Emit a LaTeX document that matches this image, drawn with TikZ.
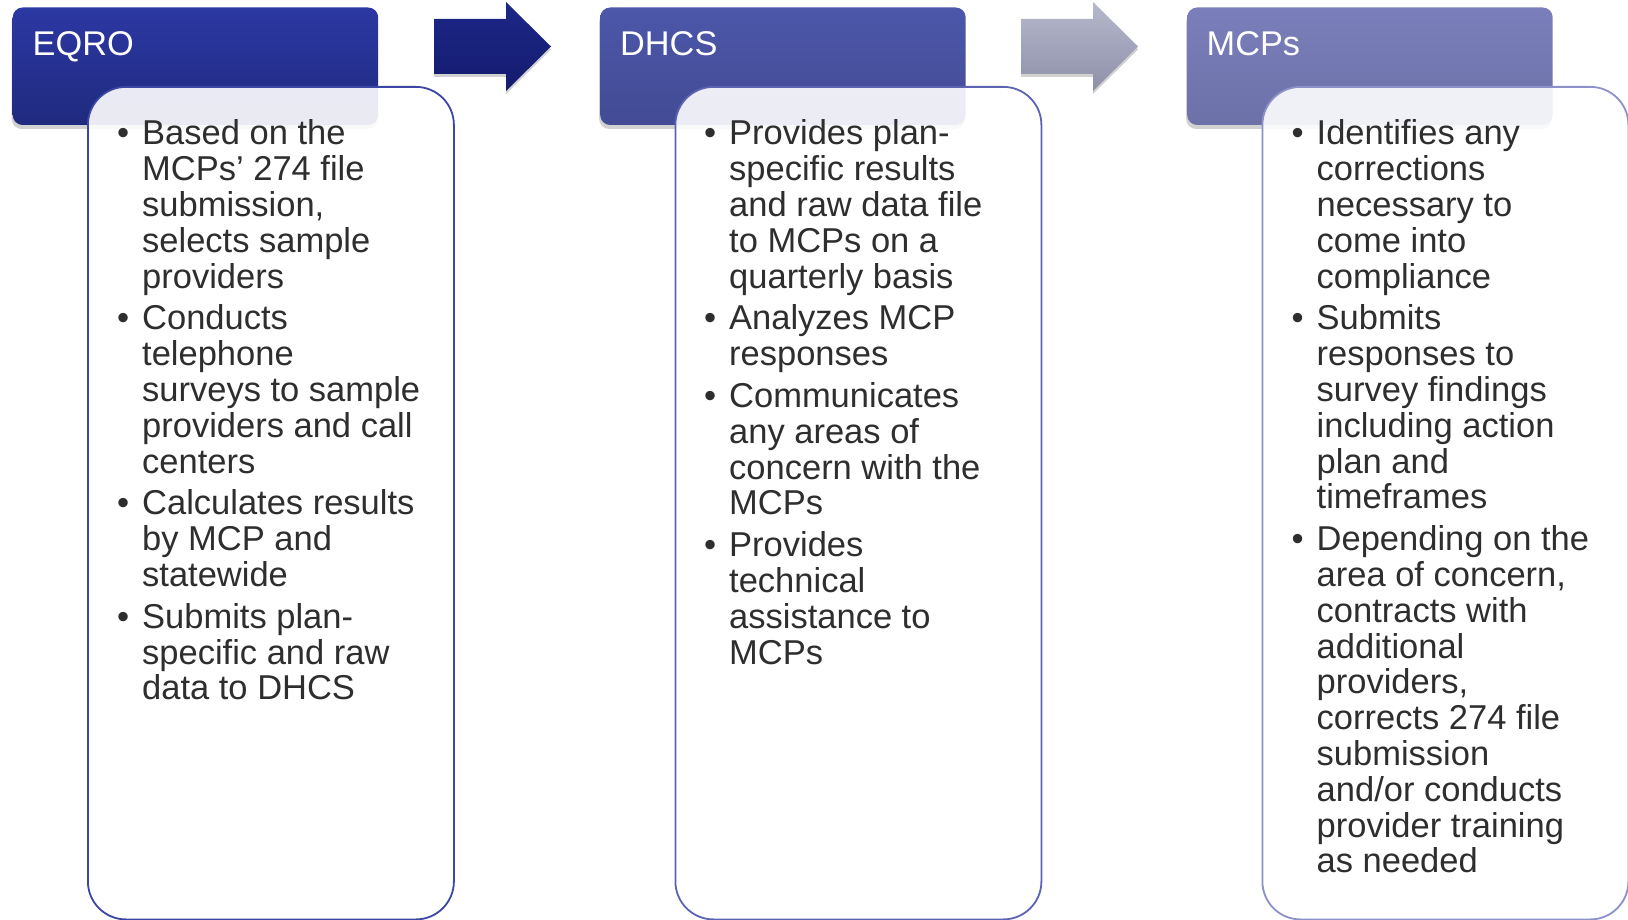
\documentclass[tikz,border=0pt]{standalone}
\usepackage{fontspec}
\setmainfont{Liberation Sans}
\usetikzlibrary{shadows}
\definecolor{txt}{HTML}{2E2E2E}
\definecolor{hAtop}{HTML}{2C38A3}
\definecolor{hAbot}{HTML}{1F2A7E}
\definecolor{hBtop}{HTML}{4C57AA}
\definecolor{hBbot}{HTML}{424B93}
\definecolor{hCtop}{HTML}{7A7FBB}
\definecolor{hCbot}{HTML}{6C71A8}
\definecolor{bA}{HTML}{3B47A3}
\definecolor{bB}{HTML}{5B63B2}
\definecolor{bC}{HTML}{8C92C9}
\definecolor{arAtop}{HTML}{1D2788}
\definecolor{arAbot}{HTML}{141C6E}
\definecolor{arBtop}{HTML}{B6B8CD}
\definecolor{arBbot}{HTML}{8E90A9}
\newcommand{\bul}{\leavevmode\llap{\textbullet\hspace{13pt}}}
\newcommand{\coltext}[1]{\parbox[t]{340pt}{\fontsize{34.5}{35.8}\selectfont\raggedright #1}}
\tikzset{
  hdr/.style={rounded corners=10pt, anchor=north west, inner sep=0pt,
    minimum width=365.5pt, minimum height=117.5pt,
    drop shadow={shadow xshift=-1pt, shadow yshift=-4pt, opacity=0.18, fill=black}},
  bodybox/.style={rounded corners=38pt, anchor=north west, inner sep=0pt,
    minimum width=366pt, minimum height=832.5pt, fill=white, fill opacity=0.9, line width=1.8pt},
  hdrtext/.style={anchor=base west, inner sep=0pt, text=white, font=\fontsize{34.3}{40}\selectfont},
  bodytext/.style={anchor=base west, inner sep=0pt, text=txt},
  blockarrow/.style={drop shadow={shadow xshift=0pt, shadow yshift=-3pt, opacity=0.18, fill=black}}
}
\begin{document}
\begin{tikzpicture}[x=1pt,y=-1pt]
\useasboundingbox (0,0) rectangle (1628,920);
% arrows
\path[blockarrow, top color=arAtop, bottom color=arAbot]
  (434,19) -- (506,19) -- (506,2) -- (551,46.5) -- (506,91) -- (506,74) -- (434,74) -- cycle;
\path[blockarrow, top color=arBtop, bottom color=arBbot]
  (1021,19) -- (1093,19) -- (1093,2) -- (1138,46.5) -- (1093,91) -- (1093,74) -- (1021,74) -- cycle;
% headers
\node[hdr, top color=hAtop, bottom color=hAbot] (hA) at (12.5,7.3) {};
\node[hdr, top color=hBtop, bottom color=hBbot] (hB) at (600,7.3) {};
\node[hdr, top color=hCtop, bottom color=hCbot] (hC) at (1187,7.3) {};
\node[hdrtext] (hAt) at (32.5,56) {EQRO};
\node[hdrtext] (hBt) at (620,56) {DHCS};
\node[hdrtext] (hCt) at (1206.5,56) {MCPs};
% bodies
\node[bodybox, draw=bA] (bA) at (87,86) {};
\node[bodybox, draw=bB] (bB) at (674.5,86) {};
\node[bodybox, draw=bC] (bC) at (1261.5,86) {};
% texts
\node[bodytext] (tA) at (142,145) {\coltext{%
\bul Based on the\\ MCPs’ 274 file\\ submission,\\ selects sample\\ providers\\[6pt]
\bul Conducts\\ telephone\\ surveys to sample\\ providers and call\\ centers\\[6pt]
\bul Calculates results\\ by MCP and\\ statewide\\[6pt]
\bul Submits plan-\\ specific and raw\\ data to DHCS}};
\node[bodytext] (tB) at (729,145) {\coltext{%
\bul Provides plan-\\ specific results\\ and raw data file\\ to MCPs on a\\ quarterly basis\\[6pt]
\bul Analyzes MCP\\ responses\\[6pt]
\bul Communicates\\ any areas of\\ concern with the\\ MCPs\\[6pt]
\bul Provides\\ technical\\ assistance to\\ MCPs}};
\node[bodytext] (tC) at (1316.5,145) {\coltext{%
\bul Identifies any\\ corrections\\ necessary to\\ come into\\ compliance\\[6pt]
\bul Submits\\ responses to\\ survey findings\\ including action\\ plan and\\ timeframes\\[6pt]
\bul Depending on the\\ area of concern,\\ contracts with\\ additional\\ providers,\\ corrects 274 file\\ submission\\ and/or conducts\\ provider training\\ as needed}};
\end{tikzpicture}
\end{document}
